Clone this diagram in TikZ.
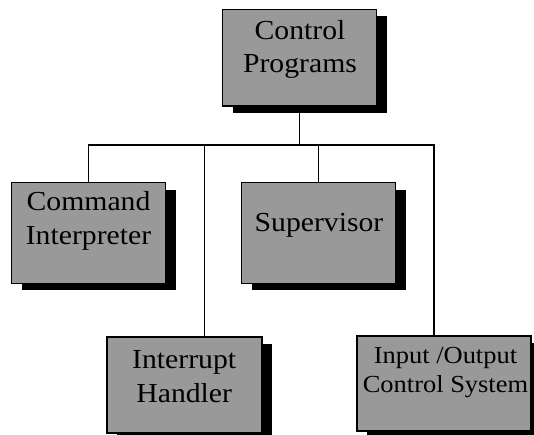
\documentclass[tikz,border=0pt]{standalone}
\usepackage{fontspec}
\setmainfont{Liberation Serif}[FakeStretch=1.08]
\usetikzlibrary{shadows}

\tikzset{
  unitbox/.style={draw=black, line width=1.1pt, fill=black!40, inner sep=0pt,
    drop shadow={shadow xshift=10pt, shadow yshift=-7pt, fill=black, opacity=1}},
  boxtext/.style={anchor=base, align=center, inner sep=0pt,
    font=\fontsize{27.5}{33.5}\selectfont},
  smalltext/.style={boxtext, font=\fontsize{24.5}{29}\selectfont},
  link/.style={line width=1.1pt}
}

\begin{document}
\begin{tikzpicture}[x=1pt, y=-1pt]
  \useasboundingbox (0,0) rectangle (534,435);

  % boxes
  \node[unitbox, minimum width=154pt, minimum height=96.7pt] (top) at (299.7,57.7) {};
  \node[unitbox, minimum width=154pt, minimum height=100.6pt] (cmd) at (88.7,233) {};
  \node[unitbox, minimum width=154pt, minimum height=100.6pt] (sup) at (318.7,233) {};
  \node[unitbox, minimum width=155pt, minimum height=96pt] (int) at (184.5,385) {};
  \node[unitbox, minimum width=174pt, minimum height=95pt] (io) at (444,383.5) {};

  % labels (anchored at the baseline of their last line)
  \node[boxtext] (topl) at (300,73) {Control\\Programs};
  \node[boxtext] (cmdl) at (88.5,244) {Command\\Interpreter};
  \node[boxtext] (supl) at (319,231.7) {Supervisor};
  \node[boxtext] (intl) at (184.2,402) {Interrupt\\Handler};
  \node[smalltext] (iol) at (445.5,392) {Input /Output\\Control System};

  % tree connectors
  \coordinate (bus) at (300,145);
  \coordinate (intdrop) at ([xshift=20pt]int.north);
  \coordinate (iodrop) at ([xshift=-10pt]io.north);
  \draw[link] (top.south) -- (top.south |- bus);
  \draw[link] (cmd.north) -- (cmd.north |- bus) -- (iodrop |- bus) -- (iodrop);
  \draw[link] (sup.north) -- (sup.north |- bus);
  \draw[link] (intdrop) -- (intdrop |- bus);
\end{tikzpicture}
\end{document}
